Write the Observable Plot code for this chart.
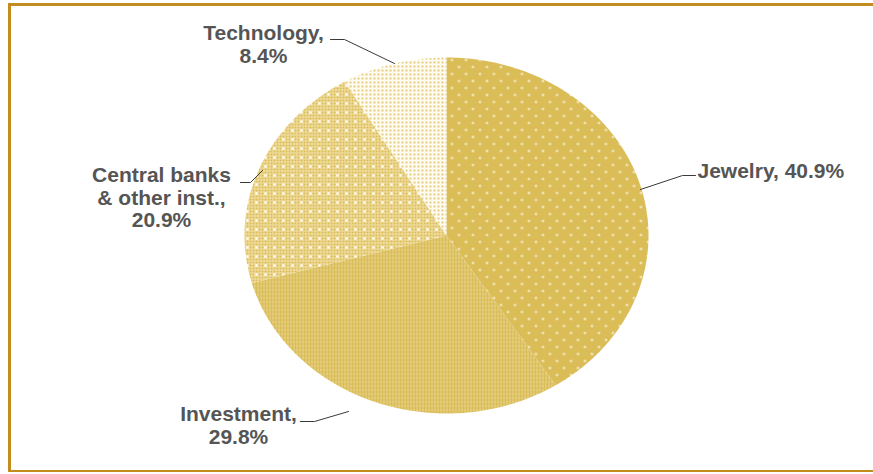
<!DOCTYPE html>
<html>
<head>
<meta charset="utf-8">
<script src="https://cdn.jsdelivr.net/npm/d3@7"></script>
<script src="https://cdn.jsdelivr.net/npm/@observablehq/plot@0.6"></script>
<style>
  html, body { margin: 0; padding: 0; background: #fff; overflow: hidden; }
  #wrap { position: relative; width: 873px; height: 474px; overflow: hidden; }
  .fl { position: absolute; background: #C38C1E; }
  svg text { font-family: "Liberation Sans", Arial, sans-serif; }
</style>
</head>
<body>
<div id="wrap">
  <div class="fl" style="left:8px; top:3px; width:865px; height:3px"></div>
  <div class="fl" style="left:8px; top:3px; width:3px; height:469px"></div>
  <div class="fl" style="left:8px; top:470px; width:865px; height:2px"></div>
</div>
<svg width="0" height="0" style="position:absolute">
  <defs>
    <pattern id="pat0" patternUnits="userSpaceOnUse" width="14" height="14">
      <rect width="14" height="14" fill="#DBBD57"/>
      <circle cx="3.5" cy="3.5" r="1.1" fill="#fff"/>
      <circle cx="10.5" cy="10.5" r="1.1" fill="#fff"/>
    </pattern>
    <pattern id="pat1" patternUnits="userSpaceOnUse" width="3" height="4">
      <rect width="3" height="4" fill="#DBBD57"/>
      <rect x="2" y="0" width="1" height="3" fill="#fff" fill-opacity="0.45"/>
    </pattern>
    <pattern id="pat2" patternUnits="userSpaceOnUse" width="9" height="9">
      <rect width="9" height="9" fill="#F1E0A8"/>
      <rect x="0" y="0" width="2" height="2" fill="#DBBD57"/>
      <rect x="3" y="0" width="2" height="2" fill="#DBBD57"/>
      <rect x="6" y="0" width="2" height="2" fill="#DBBD57"/>
      <rect x="0" y="3" width="2" height="2" fill="#DBBD57"/>
      <rect x="3" y="3" width="2" height="2" fill="#fff"/>
      <rect x="6" y="3" width="2" height="2" fill="#DBBD57"/>
      <rect x="0" y="6" width="2" height="2" fill="#DBBD57"/>
      <rect x="3" y="6" width="2" height="2" fill="#DBBD57"/>
      <rect x="6" y="6" width="2" height="2" fill="#DBBD57"/>
    </pattern>
    <pattern id="pat3" patternUnits="userSpaceOnUse" width="4" height="4">
      <rect width="4" height="4" fill="#FFFCF2"/>
      <rect x="1" y="1" width="2" height="2" fill="#E4CC80"/>
    </pattern>
  </defs>
</svg>
<script>
// ---- data ----
const categories = ["Jewelry", "Investment", "Central banks\n& other inst.", "Technology"];
const shares = [40.9, 29.8, 20.9, 8.4];
const labelNames = ["Jewelry, ", "Investment,\n", "Central banks\n& other inst.,\n", "Technology,\n"];

// ---- layout (pixel positions of labels & leader lines, converted to pie units) ----
const W = 873, H = 474;
const cx = 446, cy = 235, rx = 202, ry = 178;
const toX = px => (px - cx) / rx;
const toY = py => (cy - py) / ry;
const labelLayout = [
  {x: 697, y: 170, anchor: "start"},
  {x: 238, y: 425, anchor: "middle"},
  {x: 161, y: 197, anchor: "middle"},
  {x: 263, y: 44, anchor: "middle"}
];
const leaderLayout = [
  [[640, 189], [682, 175], [695, 175]],
  [[300, 421], [314, 421], [348, 411]],
  [[240, 182], [250, 182], [262, 170]],
  [[330, 39], [344, 39], [394, 63]]
];
const fills = ["url(#pat0)", "url(#pat1)", "url(#pat2)", "url(#pat3)"];

// ---- pie geometry from values ----
const arcs = d3.pie().sort(null).value(d => d)(shares);
const slices = arcs.map((a, i) => {
  const pts = [{x: 0, y: 0}];
  const n = Math.max(2, Math.ceil((a.endAngle - a.startAngle) / 0.01));
  for (let k = 0; k <= n; k++) {
    const t = a.startAngle + (a.endAngle - a.startAngle) * k / n;
    pts.push({x: Math.sin(t), y: Math.cos(t)});
  }
  return pts;
});

const labels = shares.map((v, i) => ({
  x: toX(labelLayout[i].x), y: toY(labelLayout[i].y),
  text: labelNames[i] + v.toFixed(1) + "%", anchor: labelLayout[i].anchor
}));

const marks = [];
slices.forEach((pts, i) => {
  marks.push(Plot.line(pts, {x: "x", y: "y", curve: "linear-closed", fill: fills[i], stroke: "none"}));
});
leaderLayout.forEach(l => {
  marks.push(Plot.line(l.map(([px, py]) => ({x: toX(px), y: toY(py)})), {x: "x", y: "y", stroke: "#3a3a3a", strokeWidth: 1}));
});
["start", "middle"].forEach(anc => {
  marks.push(Plot.text(labels.filter(d => d.anchor === anc), {
    x: "x", y: "y", text: "text", textAnchor: anc, lineAnchor: "middle",
    lineHeight: 1.08, fontSize: 21, fontWeight: "bold", fill: "#555555"
  }));
});

const chart = Plot.plot({
  width: W, height: H,
  marginLeft: cx - rx, marginRight: W - (cx + rx),
  marginTop: cy - ry, marginBottom: H - (cy + ry),
  x: {domain: [-1, 1], axis: null},
  y: {domain: [-1, 1], axis: null},
  style: {background: "transparent", overflow: "visible"},
  marks
});
chart.style.position = "absolute";
chart.style.left = "0px";
chart.style.top = "0px";
document.getElementById("wrap").prepend(chart);
</script>
</body>
</html>
